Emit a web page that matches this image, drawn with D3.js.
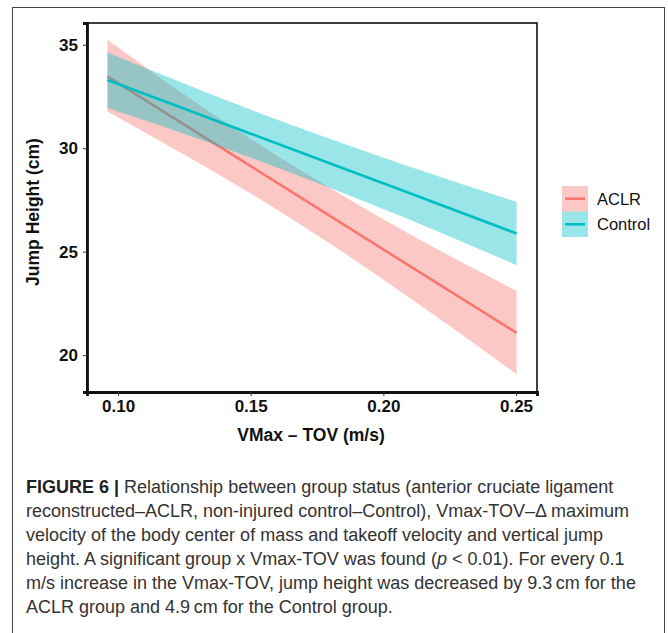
<!DOCTYPE html>
<html>
<head>
<meta charset="utf-8">
<script src="https://cdn.jsdelivr.net/npm/d3@7"></script>
<style>
  body { margin: 0; background: #fff; }
  svg { display: block; }
</style>
</head>
<body>
<svg id="chart" width="668" height="633"></svg>
<script>
// fitted lines + confidence bands
const groups = ["ACLR", "Control"];
const xVals = [0.096, 0.12, 0.15, 0.18, 0.21, 0.2502];
const aclrFit = [33.47, 31.54, 29.13, 26.72, 24.3, 21.08];
const aclrLow = [31.77, 30.05, 27.81, 25.38, 22.76, 19.08];
const aclrHigh = [35.24, 33.03, 30.45, 28.06, 25.84, 23.11];
const controlFit = [33.3, 32.15, 30.7, 29.26, 27.82, 25.88];
const controlLow = [31.94, 30.92, 29.54, 28.08, 26.54, 24.35];
const controlHigh = [34.63, 33.38, 31.86, 30.44, 29.1, 27.41];
const xTicks = [0.1, 0.15, 0.2, 0.25];
const yTicks = [20, 25, 30, 35];

const colors = { ACLR: "#F8766D", Control: "#00BFC4" };

const series = [
  { name: "ACLR", fit: aclrFit, low: aclrLow, high: aclrHigh },
  { name: "Control", fit: controlFit, low: controlLow, high: controlHigh }
];

const font = "Liberation Sans, Arial, sans-serif";
const svg = d3.select("#chart");

// outer figure frame
svg.append("rect")
  .attr("x", 12.5).attr("y", 7.5)
  .attr("width", 652).attr("height", 640)
  .attr("fill", "none")
  .attr("stroke", "#444")
  .attr("stroke-width", 1);

const panel = { left: 87, right: 537, top: 23, bottom: 392 };

const x = d3.scaleLinear()
  .domain([0.0883, 0.2579])
  .range([panel.left, panel.right]);
const y = d3.scaleLinear()
  .domain([18.22, 36.05])
  .range([panel.bottom, panel.top]);

const plot = svg.append("g");

series.forEach((s) => {
  const pts = xVals.map((v, i) => ({ x: v, fit: s.fit[i], low: s.low[i], high: s.high[i] }));

  plot.append("path")
    .datum(pts)
    .attr("fill", colors[s.name])
    .attr("fill-opacity", 0.4)
    .attr("d", d3.area()
      .curve(d3.curveMonotoneX)
      .x((d) => x(d.x))
      .y0((d) => y(d.low))
      .y1((d) => y(d.high)));

  plot.append("path")
    .datum(pts)
    .attr("fill", "none")
    .attr("stroke", colors[s.name])
    .attr("stroke-width", 2.6)
    .attr("d", d3.line()
      .x((d) => x(d.x))
      .y((d) => y(d.fit)));
});

// panel border
svg.append("rect")
  .attr("x", panel.left).attr("y", panel.top)
  .attr("width", panel.right - panel.left)
  .attr("height", panel.bottom - panel.top)
  .attr("fill", "none")
  .attr("stroke", "#111")
  .attr("stroke-width", 1.6);

// axes
const xAxis = svg.append("g")
  .attr("transform", `translate(0,${panel.bottom})`)
  .call(d3.axisBottom(x).tickValues(xTicks).tickFormat(d3.format(".2f")).tickSize(4).tickPadding(4));
const yAxis = svg.append("g")
  .attr("transform", `translate(${panel.left},0)`)
  .call(d3.axisLeft(y).tickValues(yTicks).tickSize(4).tickPadding(5));

[xAxis, yAxis].forEach((a) => {
  a.select(".domain").attr("stroke", "#111").attr("stroke-width", 2.8);
  a.selectAll(".tick line").attr("stroke", "#333").attr("stroke-width", 1);
  a.selectAll(".tick text")
    .attr("fill", "#111")
    .style("font-family", font)
    .style("font-size", "17px")
    .style("font-weight", "bold");
});

svg.append("text")
  .attr("x", (panel.left + panel.right) / 2 - 1)
  .attr("y", 441)
  .attr("text-anchor", "middle")
  .style("font-family", font)
  .style("font-size", "17.5px")
  .style("font-weight", "bold")
  .attr("fill", "#111")
  .text("VMax \u2013 TOV (m/s)");

svg.append("text")
  .attr("transform", `translate(39,212) rotate(-90)`)
  .attr("text-anchor", "middle")
  .style("font-family", font)
  .style("font-size", "17.5px")
  .style("font-weight", "bold")
  .attr("fill", "#111")
  .text("Jump Height (cm)");

// legend
const legend = svg.append("g").attr("transform", "translate(562,186)");
groups.forEach((g, i) => {
  const row = legend.append("g").attr("transform", `translate(0,${i * 25.5})`);
  row.append("rect")
    .attr("width", 26).attr("height", 25.5)
    .attr("fill", colors[g]).attr("fill-opacity", 0.4);
  row.append("line")
    .attr("x1", 3).attr("x2", 23)
    .attr("y1", 12.75).attr("y2", 12.75)
    .attr("stroke", colors[g]).attr("stroke-width", 2.6);
  row.append("text")
    .attr("x", 35).attr("y", 18.5)
    .style("font-family", font)
    .style("font-size", "16.5px")
    .attr("fill", "#111")
    .text(g);
});

// caption
const captionLines = [
  [{ t: "FIGURE 6 |", b: true }, { t: " Relationship between group status (anterior cruciate ligament" }],
  [{ t: "reconstructed\u2013ACLR, non-injured control\u2013Control), Vmax-TOV\u2013\u0394 maximum" }],
  [{ t: "velocity of the body center of mass and takeoff velocity and vertical jump" }],
  [{ t: "height. A significant group x Vmax-TOV was found (" }, { t: "p", i: true }, { t: " < 0.01). For every 0.1" }],
  [{ t: "m/s increase in the Vmax-TOV, jump height was decreased by 9.3\u2009cm for the" }],
  [{ t: "ACLR group and 4.9\u2009cm for the Control group." }]
];

const caption = svg.append("text")
  .style("font-family", font)
  .style("font-size", "18px")
  .attr("fill", "#333");

captionLines.forEach((parts, li) => {
  parts.forEach((p, pi) => {
    const ts = caption.append("tspan").text(p.t);
    if (pi === 0) ts.attr("x", 26).attr("y", 493 + li * 24);
    if (p.b) ts.style("font-weight", "bold").attr("fill", "#222");
    if (p.i) ts.style("font-style", "italic");
  });
});
</script>
</body>
</html>
